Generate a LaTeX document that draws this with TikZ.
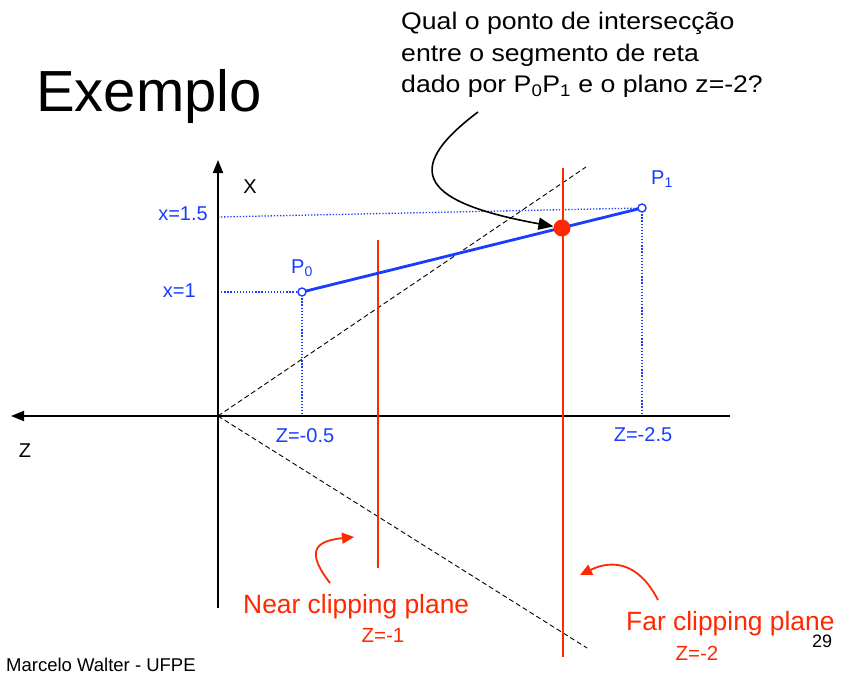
\documentclass[tikz,border=0pt]{standalone}
\usepackage{fontspec}
\setmainfont{Liberation Sans}
\newfontfamily\qfont[FakeStretch=1.11]{Liberation Sans}
\usetikzlibrary{arrows.meta}
\definecolor{pblue}{RGB}{25,60,255}
\definecolor{pred}{RGB}{255,40,0}
\begin{document}
\begin{tikzpicture}[x=1pt,y=-1pt,
 axis/.style={line width=1.8pt,-{Triangle[length=13pt,width=10pt]}},
 plane/.style={pred,line width=1.8pt},
 guide/.style={pblue,line width=1.3pt,dash pattern=on 1.3pt off 1.8pt},
 cone/.style={black,line width=0.9pt,dash pattern=on 5pt off 3pt},
 seg/.style={pblue,line width=2.8pt},
 endpt/.style={circle,draw=pblue,fill=white,line width=1.4pt,minimum size=8pt,inner sep=0pt},
 lbl/.style={font=\fontsize{20}{24}\selectfont,inner sep=0pt},
 bluelbl/.style={lbl,text=pblue},
 redlbl/.style={font=\fontsize{26.4}{30}\selectfont,text=pred,inner sep=0pt},
 redsmall/.style={font=\fontsize{20.5}{24}\selectfont,text=pred,inner sep=0pt},
 question/.style={font=\qfont\fontsize{24}{30}\selectfont,inner sep=0pt,anchor=base west},
 note/.style={pred,line width=1.8pt,-{Triangle[length=12pt,width=11pt]}},
 callout/.style={black,line width=1.6pt,-{Triangle[length=15pt,width=12pt]}},
]
\useasboundingbox (0,0) rectangle (843,674);
% coordinates
\coordinate (O) at (218,416);
\coordinate (xtop) at (218,160);
\coordinate (xbot) at (218,608);
\coordinate (zleft) at (11,416);
\coordinate (zright) at (730,416);
\coordinate (p0) at (302,292);
\coordinate (p1) at (642,208);
\coordinate (g1) at (218,292);
\coordinate (g15) at (218,217);
\coordinate (f0) at (302,416);
\coordinate (f1) at (642,416);
\coordinate (coneup) at (586,167);
\coordinate (conedn) at (587,648);
\coordinate (neartop) at (378,240);
\coordinate (nearbot) at (378,568);
\coordinate (fartop) at (563,168);
\coordinate (farbot) at (563,657);
% cone
\draw[cone] (O) -- (coneup);
\draw[cone] (O) -- (conedn);
% guides
\draw[guide] (g15) -- (p1);
\draw[guide] (g1) -- (p0);
\draw[guide] (p0) -- (f0);
\draw[guide] (p1) -- (f1);
% axes
\draw[axis] (xbot) -- (xtop);
\draw[axis] (zright) -- (zleft);
% planes
\draw[plane] (neartop) -- (nearbot);
\draw[plane] (fartop) -- (farbot);
% segment
\draw[seg] (p0) -- (p1);
\node[endpt] (P0) at (p0) {};
\node[endpt] (P1) at (p1) {};
\node[circle,fill=pred,minimum size=17pt,inner sep=0pt] (I) at (562,228) {};
% title
\node[anchor=base west,font=\fontsize{58}{60}\selectfont,inner sep=0pt] (title) at (36,112) {Exemplo};
% question
\node[question] (q1) at (401,30) {Qual o ponto de intersecção};
\node[question] (q2) at (401,62) {entre o segmento de reta};
\node[question] (q3) at (401,93) {dado por P\textsubscript{0}P\textsubscript{1} e o plano z=-2?};
\coordinate (qstart) at (478,112);
\draw[callout] (qstart) .. controls (398,172) and (425,203) .. (I);
% axis labels
\node[lbl,anchor=base] (xl) at (250,193) {X};
\node[lbl,anchor=base] (zl) at (25,457) {Z};
\node[bluelbl,anchor=base east] (x15) at (208,220) {x=1.5};
\node[bluelbl,anchor=base east] (x1) at (196,297) {x=1};
\node[bluelbl,anchor=base] (z05) at (305,442) {Z=-0.5};
\node[bluelbl,anchor=base] (z25) at (643,441) {Z=-2.5};
\node[bluelbl,anchor=base west] (P0l) at (291,273) {P\textsubscript{0}};
\node[bluelbl,anchor=base west] (P1l) at (651,184) {P\textsubscript{1}};
% plane labels
\node[redlbl,anchor=base west] (nearl) at (243,613) {Near clipping plane};
\node[redsmall,anchor=base] (nearz) at (383,642) {Z=-1};
\node[redlbl,anchor=base west] (farl) at (626,630) {Far clipping plane};
\node[redsmall,anchor=base] (farz) at (697,660) {Z=-2};
\coordinate (na) at (330,583);
\coordinate (nt) at (354,537);
\draw[note] (na) .. controls (306,552) and (314,541) .. (nt);
\coordinate (fa) at (658,600);
\coordinate (ft) at (580,575);
\draw[note] (fa) .. controls (640,565) and (615,558) .. (ft);
% footer
\node[font=\fontsize{18}{20}\selectfont,anchor=base,inner sep=0pt] (pg) at (822,647) {29};
\node[font=\fontsize{18.5}{20}\selectfont,anchor=base west,inner sep=0pt] (ft1) at (6,671) {Marcelo Walter - UFPE};
\end{tikzpicture}
\end{document}
